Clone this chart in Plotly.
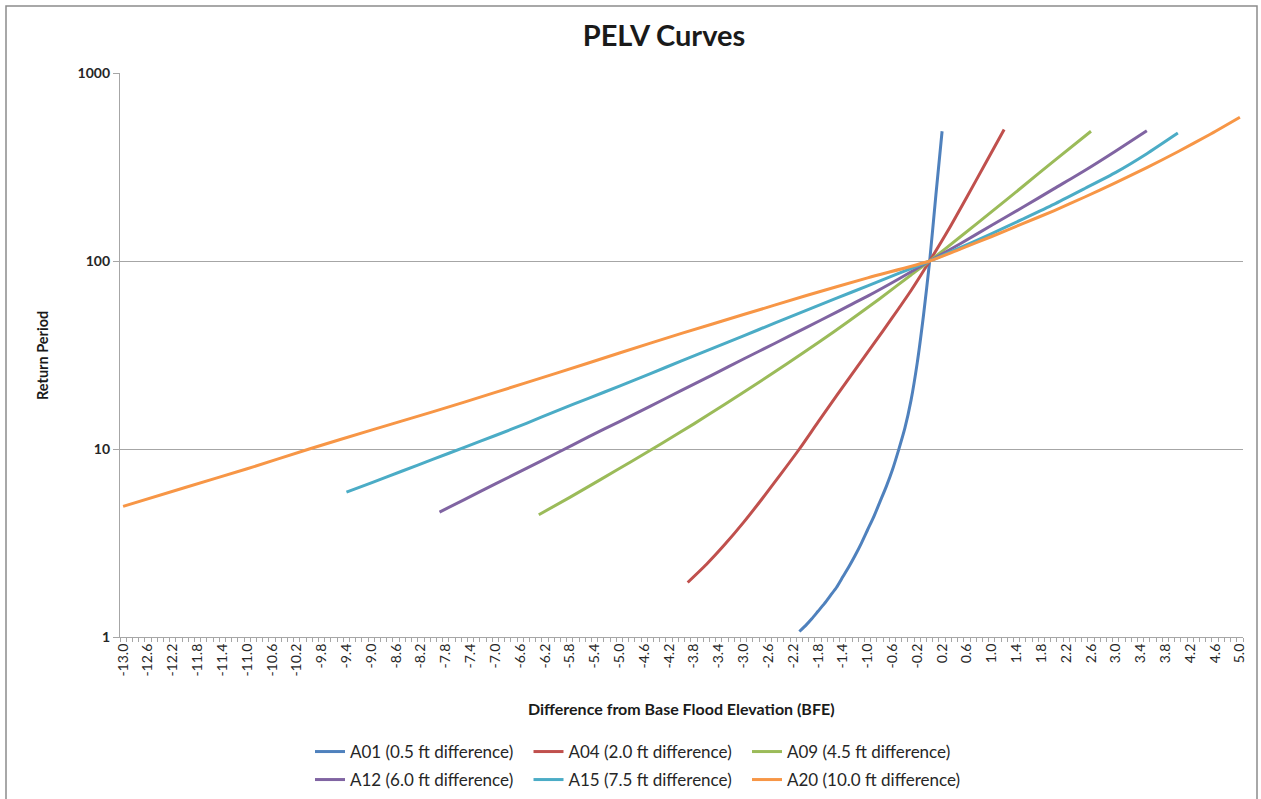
import plotly.graph_objects as go

# ---------------- data ----------------
a01_x = [-2.1, -2.0, -1.9, -1.8, -1.7, -1.6, -1.5, -1.4, -1.3, -1.2, -1.1, -1.0,
         -0.9, -0.8, -0.7, -0.6, -0.5, -0.4, -0.3, -0.2, -0.1, 0.0, 0.1, 0.2]
a01_y = [1.07, 1.15, 1.25, 1.37, 1.50, 1.66, 1.84, 2.09, 2.37, 2.72, 3.16, 3.72,
         4.37, 5.25, 6.31, 7.76, 9.9, 12.9, 18.2, 28.8, 51.3, 100, 224, 490]

a04_x = [-3.9, -3.6, -3.3, -3.0, -2.7, -2.4, -2.1, -1.8, -1.5, -1.2, -0.9, -0.6,
         -0.3, 0.0, 0.3, 0.6, 0.9, 1.2]
a04_y = [1.95, 2.43, 3.11, 4.07, 5.44, 7.35, 10.0, 13.9, 19.2, 26.4, 36.3, 50.1,
         69.7, 100, 146, 219, 331, 501]

a09_x = [-6.3, -5.8, -5.3, -4.8, -4.3, -3.8, -3.3, -2.8, -2.3, -1.8, -1.3, -0.8,
         -0.3, 0.0, 0.5, 1.0, 1.5, 2.0, 2.6]
a09_y = [4.47, 5.53, 6.89, 8.61, 10.8, 13.6, 17.3, 22.1, 28.4, 36.7, 48.0, 63.2,
         84.3, 100, 135, 183, 249, 340, 490]

a12_x = [-7.9, -7.5, -7.0, -6.5, -6.0, -5.5, -5.0, -4.5, -4.0, -3.5, -3.0, -2.5,
         -2.0, -1.5, -1.0, -0.5, 0.0, 0.5, 1.0, 1.5, 2.0, 2.5, 3.0, 3.5]
a12_y = [4.62, 5.38, 6.52, 7.89, 9.55, 11.6, 14.0, 16.9, 20.5, 24.8, 30.1, 36.4,
         44.1, 53.5, 65.0, 80.2, 100, 124, 155, 193, 242, 303, 385, 493]

a15_x = [-9.4, -9.0, -8.5, -8.0, -7.5, -7.0, -6.5, -6.0, -5.5, -5.0, -4.5, -4.0,
         -3.5, -3.0, -2.5, -2.0, -1.5, -1.0, -0.5, 0.0, 0.5, 1.0, 1.5, 2.0,
         2.5, 3.0, 3.5, 4.0]
a15_y = [5.89, 6.61, 7.64, 8.83, 10.2, 11.8, 13.7, 16.0, 18.6, 21.6, 25.2, 29.4,
         34.3, 40.0, 46.7, 54.5, 63.4, 73.8, 85.9, 100, 118, 140, 167, 200,
         243, 296, 372, 479]

a20_x = [-13.0, -12.0, -11.0, -10.0, -9.0, -8.0, -7.0, -6.0, -5.0, -4.0, -3.0,
         -2.0, -1.0, 0.0, 0.5, 1.0, 1.5, 2.0, 2.5, 3.0, 3.5, 4.0, 4.5, 5.0]
a20_y = [4.95, 6.24, 7.85, 10.0, 12.6, 15.8, 20.0, 25.4, 32.4, 41.2, 51.9,
         65.3, 81.3, 100, 116, 135, 158, 185, 219, 261, 314, 381, 468, 582]

series_names = ["A01 (0.5 ft difference)", "A04 (2.0 ft difference)",
                "A09 (4.5 ft difference)", "A12 (6.0 ft difference)",
                "A15 (7.5 ft difference)", "A20 (10.0 ft difference)"]
series_colors = ["#4F81BD", "#C0504D", "#9BBB59", "#8064A2", "#4BACC6", "#F79646"]

x_tick_labels = ["-13.0", "-12.6", "-12.2", "-11.8", "-11.4", "-11.0", "-10.6",
                 "-10.2", "-9.8", "-9.4", "-9.0", "-8.6", "-8.2", "-7.8", "-7.4",
                 "-7.0", "-6.6", "-6.2", "-5.8", "-5.4", "-5.0", "-4.6", "-4.2",
                 "-3.8", "-3.4", "-3.0", "-2.6", "-2.2", "-1.8", "-1.4", "-1.0",
                 "-0.6", "-0.2", "0.2", "0.6", "1.0", "1.4", "1.8", "2.2", "2.6",
                 "3.0", "3.4", "3.8", "4.2", "4.6", "5.0"]
y_tick_values = [1, 10, 100, 1000]
y_tick_labels = ["1", "10", "100", "1000"]

# ---------------- figure ----------------
W, H = 1261, 799
L, R, T, B = 120, 18, 73, 162
PW, PH = W - L - R, H - T - B


def px_x(p):
    return (p - L) / PW


def px_y(p):
    return (H - B - p) / PH


FONT = "Lato, 'Open Sans', sans-serif"
GRID = "#a6a6a6"
fig = go.Figure()

xs = [a01_x, a04_x, a09_x, a12_x, a15_x, a20_x]
ys = [a01_y, a04_y, a09_y, a12_y, a15_y, a20_y]
for i, (xv, yv) in enumerate(zip(xs, ys)):
    fig.add_trace(go.Scatter(
        x=xv, y=yv, mode="lines", name=series_names[i],
        line=dict(color=series_colors[i], width=3, shape="spline", smoothing=0.6),
        legend="legend" if i < 3 else "legend2",
    ))

legend_common = dict(
    orientation="h", xanchor="left", yanchor="middle",
    entrywidth=173.5, entrywidthmode="pixels",
    font=dict(family=FONT, size=17, color="#262626"),
    bgcolor="rgba(0,0,0,0)", borderwidth=0, itemwidth=30,
    tracegroupgap=0,
)

fig.update_layout(
    width=W, height=H,
    margin=dict(l=L, r=R, t=T, b=B, autoexpand=False),
    paper_bgcolor="white", plot_bgcolor="white",
    title=dict(text="<b>PELV Curves</b>", x=664 / W, xanchor="center",
               y=1 - 36 / H, yanchor="middle",
               font=dict(family=FONT, size=29, color="#1a1a1a")),
    legend=dict(x=px_x(310), y=px_y(752), **legend_common),
    legend2=dict(x=px_x(310), y=px_y(780), **legend_common),
    xaxis=dict(
        range=[-13.05, 5.05],
        tickmode="array",
        tickvals=[float(s) for s in x_tick_labels],
        ticktext=x_tick_labels,
        tickangle=-90,
        ticks="",
        tickfont=dict(family=FONT, size=14, color="#262626"),
        showgrid=False, zeroline=False, automargin=False,
        showline=True, linecolor=GRID, linewidth=1.3,
        minor=dict(tickmode="linear", tick0=-13.05, dtick=0.1,
                   ticks="outside", ticklen=4, tickcolor=GRID,
                   showgrid=False),
        fixedrange=True,
    ),
    yaxis=dict(
        type="log", range=[0, 3],
        tickmode="array", tickvals=y_tick_values, ticktext=y_tick_labels,
        ticks="outside", ticklen=6, tickcolor=GRID,
        tickfont=dict(family=FONT, size=14, color="#262626", weight="bold"),
        showgrid=True, gridcolor=GRID, gridwidth=1.3,
        zeroline=False, automargin=False,
        showline=True, linecolor=GRID, linewidth=1.3,
        fixedrange=True,
    ),
    annotations=[
        dict(text="<b>Difference from Base Flood Elevation (BFE)</b>",
             xref="paper", yref="paper", x=0.5, y=px_y(708),
             xanchor="center", yanchor="middle", showarrow=False,
             font=dict(family=FONT, size=16, color="#1a1a1a")),
        dict(text="<b>Return Period</b>", textangle=-90,
             xref="paper", yref="paper", x=px_x(42), y=0.5,
             xanchor="center", yanchor="middle", showarrow=False,
             font=dict(family=FONT, size=14.5, color="#1a1a1a")),
    ],
    shapes=[
        dict(type="rect", xref="paper", yref="paper",
             x0=px_x(6), x1=px_x(1257), y0=px_y(812), y1=px_y(6),
             line=dict(color="#8c8c8c", width=1.5), fillcolor="rgba(0,0,0,0)",
             layer="below"),
    ],
    showlegend=True,
)

fig.write_html(
    "out.html",
    config={"displayModeBar": False},
    post_script="document.body.style.margin='0';document.body.style.overflow='hidden';",
)
